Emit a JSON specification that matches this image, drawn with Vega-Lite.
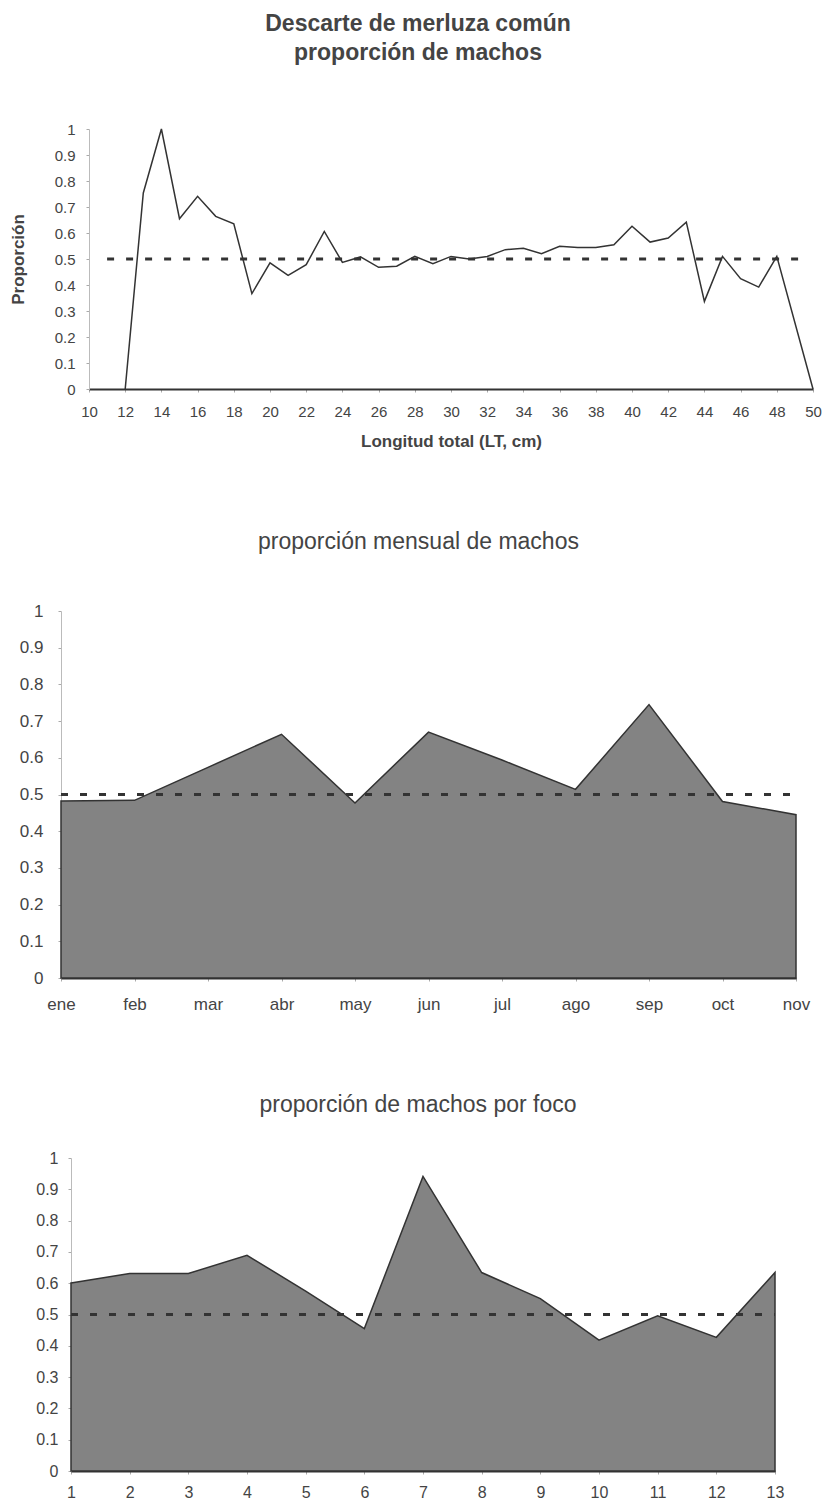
{
  "$schema": "https://vega.github.io/schema/vega-lite/v6.json",
  "background": "white",
  "padding": {"left": 9, "top": 13, "right": 5, "bottom": 0},
  "spacing": 82,
  "config": {
    "font": "Liberation Sans",
    "view": {"stroke": null},
    "axis": {"grid": false, "labelColor": "#444", "titleColor": "#444", "labelFont": "Liberation Sans", "titleFont": "Liberation Sans", "tickColor": "#aaa", "tickSize": 3, "domainColor": "#bbb", "labelOverlap": false},
    "title": {"color": "#444", "font": "Liberation Sans"}
  },
  "datasets": {
    "longitud": [
      {"lt": 12, "p": 0}, {"lt": 13, "p": 0.754}, {"lt": 14, "p": 1.0}, {"lt": 15, "p": 0.655},
      {"lt": 16, "p": 0.741}, {"lt": 17, "p": 0.664}, {"lt": 18, "p": 0.635}, {"lt": 19, "p": 0.367},
      {"lt": 20, "p": 0.485}, {"lt": 21, "p": 0.437}, {"lt": 22, "p": 0.478}, {"lt": 23, "p": 0.606},
      {"lt": 24, "p": 0.487}, {"lt": 25, "p": 0.508}, {"lt": 26, "p": 0.468}, {"lt": 27, "p": 0.472},
      {"lt": 28, "p": 0.51}, {"lt": 29, "p": 0.482}, {"lt": 30, "p": 0.51}, {"lt": 31, "p": 0.5},
      {"lt": 32, "p": 0.51}, {"lt": 33, "p": 0.536}, {"lt": 34, "p": 0.541}, {"lt": 35, "p": 0.52},
      {"lt": 36, "p": 0.549}, {"lt": 37, "p": 0.544}, {"lt": 38, "p": 0.544}, {"lt": 39, "p": 0.555},
      {"lt": 40, "p": 0.626}, {"lt": 41, "p": 0.565}, {"lt": 42, "p": 0.581}, {"lt": 43, "p": 0.642},
      {"lt": 44, "p": 0.337}, {"lt": 45, "p": 0.51}, {"lt": 46, "p": 0.424}, {"lt": 47, "p": 0.392},
      {"lt": 48, "p": 0.51}, {"lt": 50, "p": 0.0}
    ],
    "ref_longitud": [{"lt": 11, "lt2": 49.4, "p": 0.5}],
    "mensual": [
      {"mes": "ene", "p": 0.482}, {"mes": "feb", "p": 0.484}, {"mes": "mar", "p": 0.574},
      {"mes": "abr", "p": 0.664}, {"mes": "may", "p": 0.477}, {"mes": "jun", "p": 0.67},
      {"mes": "jul", "p": 0.594}, {"mes": "ago", "p": 0.514}, {"mes": "sep", "p": 0.745},
      {"mes": "oct", "p": 0.481}, {"mes": "nov", "p": 0.445}
    ],
    "ref_mensual": [{"mes": "ene", "mes2": "nov", "p": 0.5}],
    "foco": [
      {"foco": 1, "p": 0.601}, {"foco": 2, "p": 0.631}, {"foco": 3, "p": 0.631}, {"foco": 4, "p": 0.689},
      {"foco": 5, "p": 0.575}, {"foco": 6, "p": 0.455}, {"foco": 7, "p": 0.941}, {"foco": 8, "p": 0.634},
      {"foco": 9, "p": 0.551}, {"foco": 10, "p": 0.418}, {"foco": 11, "p": 0.496}, {"foco": 12, "p": 0.427},
      {"foco": 13, "p": 0.634}
    ],
    "ref_foco": [{"foco": 1, "foco2": 13, "p": 0.5}]
  },
  "vconcat": [
    {
      "width": 752,
      "height": 260,
      "title": {"text": ["Descarte de merluza común", "proporción de machos"], "fontSize": 23, "fontWeight": "bold", "lineHeight": 29, "offset": 57, "dx": -19},
      "encoding": {
        "x": {"field": "lt", "type": "quantitative", "scale": {"domain": [10, 50], "range": [28, 752], "nice": false, "zero": false},
              "axis": {"values": [10,12,14,16,18,20,22,24,26,28,30,32,34,36,38,40,42,44,46,48,50], "format": "d", "labelOverlap": false, "title": "Longitud total (LT, cm)", "titleFontSize": 17, "titleFontWeight": "bold", "titlePadding": 14, "labelFontSize": 15, "labelPadding": 12, "domainColor": "#333", "domainWidth": 2, "labelFlush": false}},
        "y": {"field": "p", "type": "quantitative", "scale": {"domain": [0, 1], "nice": false},
              "axis": {"values": [0,0.1,0.2,0.3,0.4,0.5,0.6,0.7,0.8,0.9,1], "format": "~g", "labelOverlap": false, "title": "Proporción", "titleFontSize": 17, "titleFontWeight": "bold", "titlePadding": 27, "labelFontSize": 15, "labelPadding": 11, "offset": -28}}
      },
      "layer": [
        {
          "data": {"name": "longitud"},
          "mark": {"type": "line", "color": "#333", "strokeWidth": 1.5}
        },
        {
          "data": {"name": "ref_longitud"},
          "mark": {"type": "rule", "color": "#333", "strokeWidth": 3, "strokeDash": [7, 12]},
          "encoding": {"x2": {"field": "lt2"}}
        }
      ]
    },
    {
      "width": 735,
      "height": 367,
      "title": {"text": "proporción mensual de machos", "fontSize": 23, "fontWeight": "normal", "offset": 48, "dx": -10},
      "encoding": {
        "x": {"field": "mes", "type": "ordinal", "scale": {"type": "point", "padding": 0, "domain": ["ene","feb","mar","abr","may","jun","jul","ago","sep","oct","nov"]},
              "axis": {"title": null, "labelAngle": 0, "labelOverlap": false, "labelFontSize": 17, "labelPadding": 15, "domainColor": "#333", "domainWidth": 2}},
        "y": {"field": "p", "type": "quantitative", "scale": {"domain": [0, 1], "nice": false},
              "axis": {"values": [0,0.1,0.2,0.3,0.4,0.5,0.6,0.7,0.8,0.9,1], "format": "~g", "labelOverlap": false, "title": null, "labelFontSize": 17, "labelPadding": 15}}
      },
      "layer": [
        {
          "data": {"name": "mensual"},
          "mark": {"type": "area", "color": "#838383", "opacity": 1, "stroke": "#333", "strokeWidth": 1.5}
        },
        {
          "data": {"name": "ref_mensual"},
          "mark": {"type": "rule", "color": "#333", "strokeWidth": 3, "strokeDash": [7, 12]},
          "encoding": {"x2": {"field": "mes2"}}
        }
      ]
    },
    {
      "width": 714,
      "height": 313,
      "title": {"text": "proporción de machos por foco", "fontSize": 23, "fontWeight": "normal", "offset": 33},
      "encoding": {
        "x": {"field": "foco", "type": "quantitative", "scale": {"domain": [1, 13], "range": [10, 714], "nice": false, "zero": false},
              "axis": {"values": [1,2,3,4,5,6,7,8,9,10,11,12,13], "format": "d", "labelOverlap": false, "title": null, "labelFontSize": 16, "labelPadding": 10, "domainColor": "#333", "domainWidth": 2, "labelFlush": false}},
        "y": {"field": "p", "type": "quantitative", "scale": {"domain": [0, 1], "nice": false},
              "axis": {"values": [0,0.1,0.2,0.3,0.4,0.5,0.6,0.7,0.8,0.9,1], "format": "~g", "labelOverlap": false, "title": null, "labelFontSize": 16, "labelPadding": 10, "offset": -10}}
      },
      "layer": [
        {
          "data": {"name": "foco"},
          "mark": {"type": "area", "color": "#838383", "opacity": 1, "stroke": "#333", "strokeWidth": 1.5}
        },
        {
          "data": {"name": "ref_foco"},
          "mark": {"type": "rule", "color": "#333", "strokeWidth": 3, "strokeDash": [7, 12]},
          "encoding": {"x2": {"field": "foco2"}}
        }
      ]
    }
  ]
}
